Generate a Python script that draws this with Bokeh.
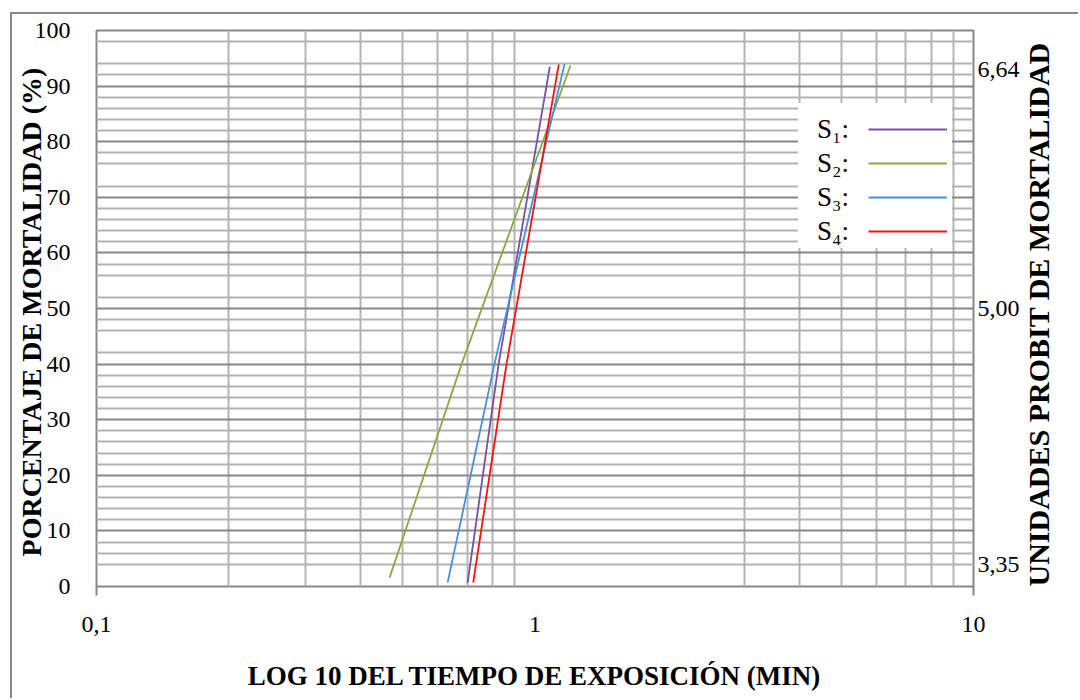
import math
from bokeh.plotting import figure
from bokeh.layouts import column
from bokeh.models import (FixedTicker, Grid, LinearAxis, Legend, LegendItem)
from bokeh.embed import file_html
from bokeh.resources import INLINE

# ---------------- data ----------------
series_names = ["S₁:", "S₂:", "S₃:", "S₄:"]
series_colors = ["#7652a3", "#88aa46", "#4b8fd8", "#ff1010"]
# exposure time (min) and mortality (%)
s1_x = [0.702, 0.826, 1.081]
s1_y = [0.7, 40.0, 93.5]
s2_x = [0.466, 0.680, 1.205]
s2_y = [1.6, 40.0, 93.7]
s3_x = [0.632, 0.808, 1.168]
s3_y = [0.7, 40.0, 94.0]
s4_x = [0.723, 0.861, 1.133]
s4_y = [0.7, 40.0, 93.9]

x_ticks = [0.1, 1, 10]
x_tick_labels = ["0,1", "1", "10"]
y_ticks = [0, 10, 20, 30, 40, 50, 60, 70, 80, 90, 100]
right_ticks = [4, 50, 93]
right_tick_labels = ["3,35", "5,00", "6,64"]

x_grid_values = [0.2, 0.3, 0.4, 0.5, 0.6, 0.7, 0.8, 0.9, 3, 4, 5, 6, 7, 8, 9]
y_minor_grid = [4, 6, 8, 12, 14, 16, 18, 22, 24, 26, 28, 32, 34, 36, 38, 42,
                46, 48, 52, 56, 58, 62, 64, 66, 68, 72, 76, 78, 82, 84, 86,
                88, 92, 94, 98]

x_title = "LOG 10 DEL TIEMPO DE EXPOSICIÓN (MIN)"
y_title = "PORCENTAJE  DE MORTALIDAD (%)"
right_title = "UNIDADES PROBIT DE MORTALIDAD"
right_title_start = 0   # value on the y scale where the right title begins

FONT = "Liberation Serif"
DARK = "#888888"
LIGHT = "#b4b4b4"

p = figure(width=1066, height=684, x_axis_type="log", x_range=(0.1, 10),
           y_range=(0, 100), output_backend="svg", toolbar_location=None,
           min_border_left=84, min_border_right=105, min_border_top=16,
           min_border_bottom=112)
p.background_fill_color = "white"
p.border_fill_color = "white"
p.outline_line_color = DARK
p.outline_line_width = 2

# grids
p.xgrid.ticker = FixedTicker(ticks=x_grid_values)
p.xgrid.grid_line_color = LIGHT
p.xgrid.grid_line_width = 2
p.ygrid.ticker = FixedTicker(ticks=y_minor_grid)
p.ygrid.grid_line_color = LIGHT
p.ygrid.grid_line_width = 2
major_y = Grid(dimension=1, ticker=FixedTicker(ticks=y_ticks),
               grid_line_color=DARK, grid_line_width=2)
p.add_layout(major_y)

# x axis
xa = p.xaxis[0]
xa.ticker = FixedTicker(ticks=x_ticks, minor_ticks=[x_ticks[0], x_ticks[-1]])
xa.major_label_overrides = {t: l for t, l in zip(x_ticks, x_tick_labels)}
xa.axis_line_color = None
xa.major_tick_line_color = None
xa.major_tick_out = 0
xa.minor_tick_line_color = DARK
xa.minor_tick_line_width = 2
xa.minor_tick_out = 9
xa.minor_tick_in = 0
xa.major_label_standoff = 21
xa.major_label_text_font = FONT
xa.major_label_text_font_size = "24px"
xa.major_label_text_color = "black"
xa.axis_label = x_title
xa.axis_label_text_font = FONT
xa.axis_label_text_font_style = "bold"
xa.axis_label_text_font_size = "27px"
xa.axis_label_text_color = "black"
xa.axis_label_standoff = 26

# left y axis
ya = p.yaxis[0]
ya.ticker = FixedTicker(ticks=y_ticks)
ya.axis_line_color = None
ya.major_tick_line_color = None
ya.minor_tick_line_color = None
ya.major_tick_out = 0
ya.major_tick_in = 0
ya.major_label_standoff = 26
ya.major_label_text_font = FONT
ya.major_label_text_font_size = "24px"
ya.major_label_text_color = "black"
ya.axis_label = y_title
ya.axis_label_text_font = FONT
ya.axis_label_text_font_style = "bold"
ya.axis_label_text_font_size = "28px"
ya.axis_label_text_color = "black"
ya.axis_label_standoff = -15

# right y axis (probit units)
ra = LinearAxis(ticker=FixedTicker(ticks=right_ticks),
                major_label_overrides={t: l for t, l in zip(right_ticks, right_tick_labels)})
ra.axis_line_color = None
ra.major_tick_line_color = None
ra.minor_tick_line_color = None
ra.major_tick_out = 0
ra.major_tick_in = 0
ra.major_label_standoff = 4
ra.major_label_text_font = FONT
ra.major_label_text_font_size = "24px"
ra.major_label_text_color = "black"
p.add_layout(ra, "right")

# right axis title, reading bottom to top as in the reference
rt = LinearAxis(ticker=FixedTicker(ticks=[right_title_start]),
                major_label_overrides={right_title_start: right_title})
rt.axis_line_color = None
rt.major_tick_line_color = None
rt.minor_tick_line_color = None
rt.major_tick_out = 0
rt.major_tick_in = 0
rt.major_label_standoff = 16
rt.major_label_orientation = math.pi / 2
rt.major_label_text_font = FONT
rt.major_label_text_font_style = "bold"
rt.major_label_text_font_size = "30px"
rt.major_label_text_color = "black"
p.add_layout(rt, "right")

# series
renderers = []
for xs, ys, c in zip([s1_x, s2_x, s3_x, s4_x], [s1_y, s2_y, s3_y, s4_y], series_colors):
    r = p.line(xs, ys, line_color=c, line_width=1.8)
    renderers.append(r)

# legend: text part (with white box) and glyph part to its right
leg_text = Legend(items=[LegendItem(label=n, renderers=[r]) for n, r in zip(series_names, renderers)],
                  location=(702, 338), padding=7, margin=0, spacing=0,
                  glyph_width=0, glyph_height=34, label_height=34,
                  label_standoff=19, label_width=135,
                  label_text_font=FONT, label_text_font_size="27px",
                  label_text_color="black", border_line_color=None,
                  background_fill_color="white", background_fill_alpha=1.0,
                  title=" ", title_text_font_size="8px", title_standoff=0)
leg_glyph = Legend(items=[LegendItem(label=" ", renderers=[r]) for r in renderers],
                   location=(772, 338), padding=7, margin=0, spacing=0,
                   glyph_width=79, glyph_height=34, label_height=34,
                   label_standoff=0, label_width=0,
                   label_text_font=FONT, label_text_font_size="27px",
                   border_line_color=None, background_fill_alpha=0.0,
                   title=" ", title_text_font_size="8px", title_standoff=0)
p.add_layout(leg_text)
p.add_layout(leg_glyph)

# chart area with its grey border (top and left edges visible)
root = column(p, margin=(12, 0, 0, 10),
              styles={"border-left": "2px solid #888888",
                      "border-top": "2px solid #888888"})

open("out.html", "w").write(file_html(root, INLINE))
